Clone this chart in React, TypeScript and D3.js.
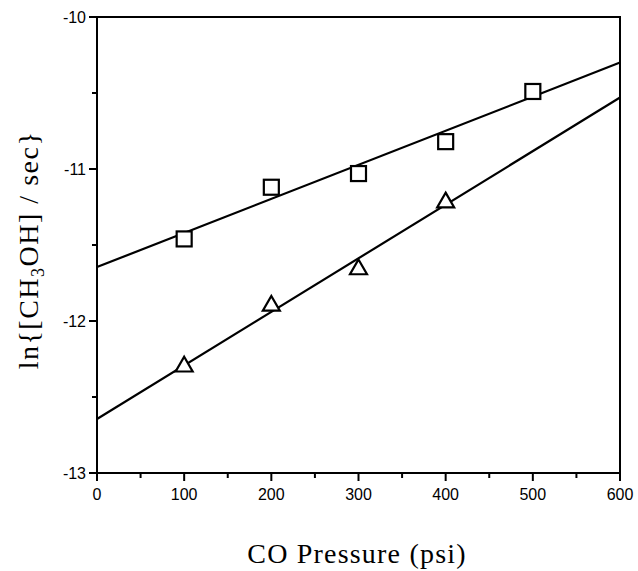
import React from "react";
import * as d3 from "d3";

// CO pressure (psi) and ln rate values
const pressures = [100, 200, 300, 400, 500];
const squareValues = [-11.46, -11.12, -11.03, -10.82, -10.49];
const trianglePressures = [100, 200, 300, 400];
const triangleValues = [-12.3, -11.9, -11.66, -11.22];

// fitted lines, endpoints at x = 0 and x = 600
const fitX = [0, 600];
const squareFit = [-11.645, -10.3];
const triangleFit = [-12.645, -10.53];

const xTicks = [0, 100, 200, 300, 400, 500, 600];
const xMinor = [50, 150, 250, 350, 450, 550];
const yTicks = [-10, -11, -12, -13];
const yMinor = [-10.5, -11.5, -12.5];

const W = 638;
const H = 571;
const left = 97;
const right = 620;
const top = 17;
const bottom = 473;

export default function App() {
  const x = d3.scaleLinear().domain([0, 600]).range([left, right]);
  const y = d3.scaleLinear().domain([-13, -10]).range([bottom, top]);

  const line = d3
    .line<[number, number]>()
    .x((d) => x(d[0]))
    .y((d) => y(d[1]));

  const tri = d3.symbol().type(d3.symbolTriangle).size(125)() as string;
  const sq = 15;

  return (
    <svg width={W} height={H} style={{ position: "absolute", left: 0, top: 0 }}>
      <rect x={0} y={0} width={W} height={H} fill="#fff" />
      <rect
        x={left}
        y={top}
        width={right - left}
        height={bottom - top}
        fill="none"
        stroke="#000"
        strokeWidth={2}
      />
      {xTicks.map((t) => (
        <g key={"x" + t}>
          <line x1={x(t)} x2={x(t)} y1={bottom} y2={bottom + 8} stroke="#000" strokeWidth={2} />
          <text
            x={x(t)}
            y={bottom + 27}
            textAnchor="middle"
            fontFamily="Liberation Sans, Arial, sans-serif"
            fontSize={16}
          >
            {t}
          </text>
        </g>
      ))}
      {xMinor.map((t) => (
        <line key={"xm" + t} x1={x(t)} x2={x(t)} y1={bottom} y2={bottom + 5} stroke="#000" strokeWidth={2} />
      ))}
      {yTicks.map((t) => (
        <g key={"y" + t}>
          <line x1={left - 8} x2={left} y1={y(t)} y2={y(t)} stroke="#000" strokeWidth={2} />
          <text
            x={left - 11}
            y={y(t) + 6}
            textAnchor="end"
            fontFamily="Liberation Sans, Arial, sans-serif"
            fontSize={16}
          >
            {t}
          </text>
        </g>
      ))}
      {yMinor.map((t) => (
        <line key={"ym" + t} x1={left - 5} x2={left} y1={y(t)} y2={y(t)} stroke="#000" strokeWidth={2} />
      ))}

      <path
        d={line(fitX.map((v, i) => [v, squareFit[i]]) as [number, number][]) || ""}
        fill="none"
        stroke="#000"
        strokeWidth={2.2}
      />
      <path
        d={line(fitX.map((v, i) => [v, triangleFit[i]]) as [number, number][]) || ""}
        fill="none"
        stroke="#000"
        strokeWidth={2.2}
      />

      {pressures.map((p, i) => (
        <rect
          key={"s" + p}
          x={x(p) - sq / 2}
          y={y(squareValues[i]) - sq / 2}
          width={sq}
          height={sq}
          fill="#fff"
          stroke="#000"
          strokeWidth={2.2}
        />
      ))}
      {trianglePressures.map((p, i) => (
        <path
          key={"t" + p}
          d={tri}
          transform={`translate(${x(p)},${y(triangleValues[i])})`}
          fill="#fff"
          stroke="#000"
          strokeWidth={2.2}
        />
      ))}

      <text
        x={357}
        y={563}
        textAnchor="middle"
        fontFamily="Liberation Serif, Times New Roman, serif"
        fontSize={28}
        letterSpacing={1.2}
      >
        CO Pressure (psi)
      </text>
      <text
        transform={`translate(38,250) rotate(-90)`}
        textAnchor="middle"
        fontFamily="Liberation Serif, Times New Roman, serif"
        fontSize={28}
        letterSpacing={1.5}
      >
        ln{"{"}[CH
        <tspan fontSize={18} dy={6}>3</tspan>
        <tspan dy={-6}>OH] / sec{"}"}</tspan>
      </text>
    </svg>
  );
}
